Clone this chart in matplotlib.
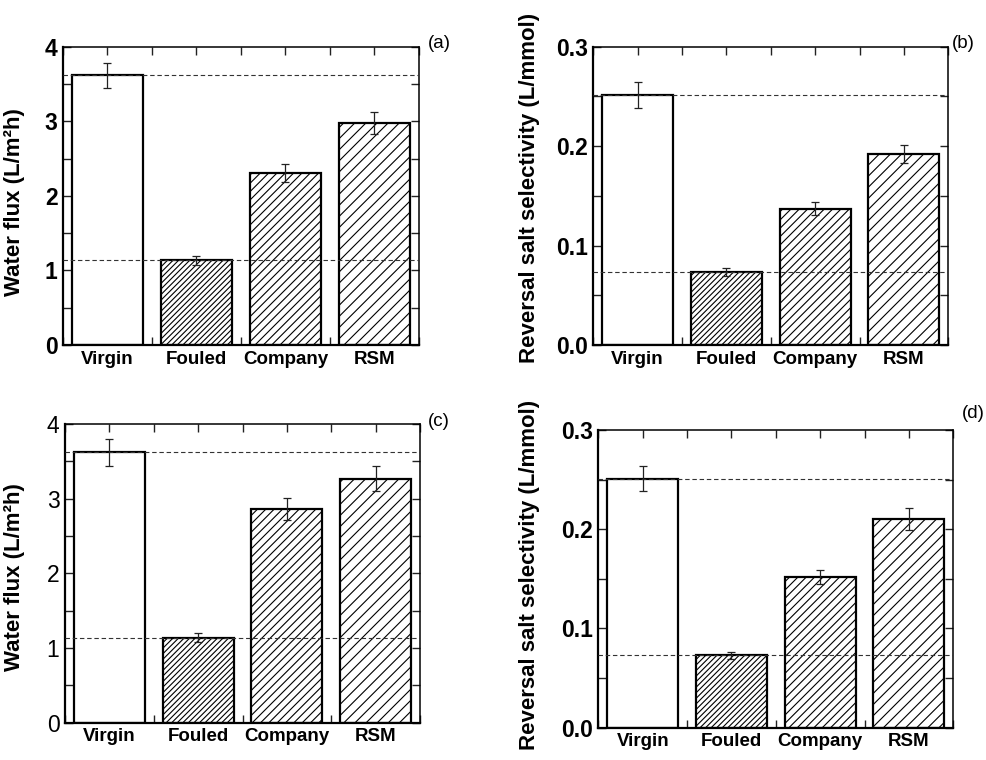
import numpy as np
import matplotlib.pyplot as plt
from matplotlib.ticker import MultipleLocator, FormatStrFormatter

plt.rcParams['font.family'] = ['Liberation Sans', 'DejaVu Sans']
plt.rcParams['hatch.linewidth'] = 0.8

categories = ['Virgin', 'Fouled', 'Company', 'RSM']
hatches = [None, '//////', '////', '///']

# panel (a): water flux, first cleaning
flux_a = [3.62, 1.14, 2.31, 2.98]
flux_a_err = [0.17, 0.06, 0.12, 0.145]

# panel (b): reverse salt selectivity, first cleaning
rss_b = [0.251, 0.073, 0.137, 0.192]
rss_b_err = [0.013, 0.004, 0.0065, 0.0095]

# panel (c): water flux, second cleaning
flux_c = [3.62, 1.14, 2.86, 3.27]
flux_c_err = [0.18, 0.055, 0.145, 0.165]

# panel (d): reverse salt selectivity, second cleaning
rss_d = [0.251, 0.073, 0.152, 0.210]
rss_d_err = [0.0125, 0.0035, 0.0073, 0.011]


def draw_panel(ax, vals, errs, ymax, major, minor, fmt, ylabel, label_xy, bold_ticks):
    x = np.arange(len(categories))
    for i in range(len(categories)):
        ax.bar(x[i], vals[i], width=0.8, color='white', edgecolor='black',
               linewidth=1.6, hatch=hatches[i], zorder=2)
    ax.errorbar(x, vals, yerr=errs, fmt='none', ecolor='#222222',
                elinewidth=0.9, capsize=2.8, capthick=0.9, zorder=4)

    # reference levels of the virgin and fouled membranes
    ax.axhline(vals[0], color='#333333', linestyle=(0, (4, 2.5)), linewidth=0.8, zorder=3)
    ax.axhline(vals[1], color='#333333', linestyle=(0, (4, 2.5)), linewidth=0.8, zorder=3)

    ax.set_xlim(-0.5, 3.5)
    ax.set_ylim(0, ymax)
    ax.set_xticks(x)
    ax.set_xticklabels(categories, fontsize=13.5, fontweight='bold')
    ax.xaxis.set_minor_locator(MultipleLocator(0.5))
    ax.yaxis.set_major_locator(MultipleLocator(major))
    ax.yaxis.set_minor_locator(MultipleLocator(minor))
    ax.yaxis.set_major_formatter(FormatStrFormatter(fmt))
    ax.tick_params(which='both', direction='in', top=True, right=True,
                   color='#222222', width=1.0)
    ax.tick_params(which='major', length=6)
    ax.tick_params(which='minor', length=6)
    ax.tick_params(axis='x', pad=4)
    ax.tick_params(axis='y', pad=4, labelsize=16.5)
    for lab in ax.get_yticklabels():
        lab.set_fontweight('bold' if bold_ticks else 'normal')
    for side in ['left', 'bottom']:
        ax.spines[side].set_linewidth(1.6)
    for side in ['top', 'right']:
        ax.spines[side].set_linewidth(1.1)
    ax.set_ylabel(ylabel, fontsize=16, fontweight='bold')
    ax.yaxis.set_label_coords(*label_xy)


fig = plt.figure(figsize=(9.87, 7.6), dpi=100)
ax_a = fig.add_axes([0.0638, 0.5461, 0.3607, 0.3921])
ax_b = fig.add_axes([0.6011, 0.5461, 0.3597, 0.3925])
ax_c = fig.add_axes([0.0659, 0.0491, 0.3597, 0.3930])
ax_d = fig.add_axes([0.6062, 0.0425, 0.3597, 0.3917])

flux_label = 'Water flux (L/m²h)'
rss_label = 'Reversal salt selectivity (L/mmol)'

draw_panel(ax_a, flux_a, flux_a_err, 4, 1, 0.5, '%d', flux_label, (-0.107, 0.48), True)
draw_panel(ax_b, rss_b, rss_b_err, 0.3, 0.1, 0.05, '%.1f', rss_label, (-0.150, 0.525), True)
draw_panel(ax_c, flux_c, flux_c_err, 4, 1, 0.5, '%d', flux_label, (-0.113, 0.486), False)
draw_panel(ax_d, rss_d, rss_d_err, 0.3, 0.1, 0.05, '%.1f', rss_label, (-0.164, 0.513), True)

# panel tags
fig.text(428 / 987, 1 - 43 / 760, '(a)', fontsize=13.5, va='center', ha='left')
fig.text(952 / 987, 1 - 43 / 760, '(b)', fontsize=13.5, va='center', ha='left')
fig.text(428 / 987, 1 - 421 / 760, '(c)', fontsize=13.5, va='center', ha='left')
fig.text(962 / 987, 1 - 413 / 760, '(d)', fontsize=13.5, va='center', ha='left')

fig.savefig('out.png', dpi=100)
